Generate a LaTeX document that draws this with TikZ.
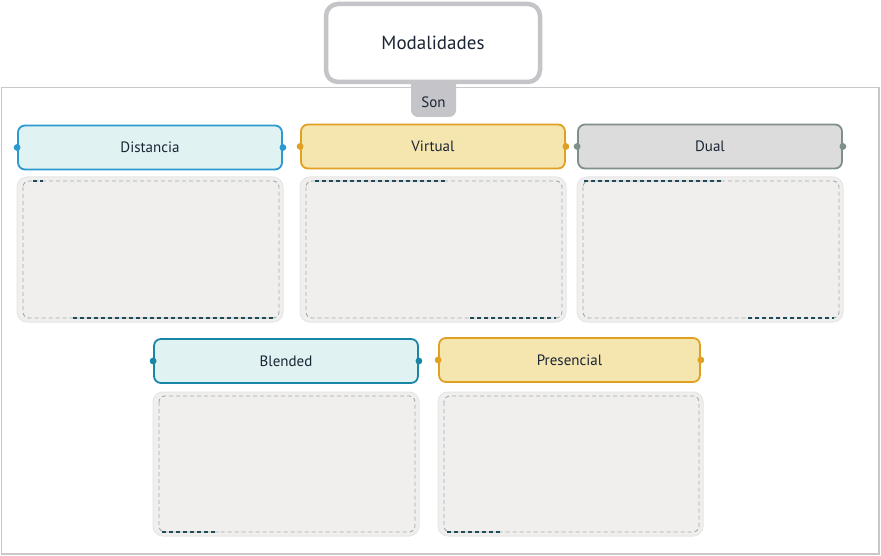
\documentclass[tikz,border=0pt]{standalone}
\usepackage{fontspec}
\setmainfont{PT Sans}
\definecolor{frame}{HTML}{C8C8CB}
\definecolor{topb}{HTML}{C4C4C9}
\definecolor{tealL}{HTML}{E0F2F2}
\definecolor{blueB}{HTML}{2A9AD0}
\definecolor{tealB}{HTML}{1A86A6}
\definecolor{yelL}{HTML}{F5E6B0}
\definecolor{yelB}{HTML}{E0A021}
\definecolor{grayL}{HTML}{DCDCDC}
\definecolor{grayB}{HTML}{7F8F8A}
\definecolor{cont}{HTML}{F0EFED}
\definecolor{contB}{HTML}{E6E6E6}
\definecolor{dashG}{HTML}{A2ACAC}
\definecolor{dashD}{HTML}{1E4A5A}
\definecolor{txt}{HTML}{1B2433}
\tikzset{
  hdr/.style={draw, line width=1.8pt, rounded corners=7pt, minimum width=264pt, minimum height=44pt, inner sep=0pt, font=\fontsize{15}{17}\selectfont, text=txt},
  contbox/.style={fill=cont, draw=contB, line width=1pt, rounded corners=10pt},
  dsh/.style={draw=dashG, dash pattern=on 4pt off 3pt, line width=0.9pt, rounded corners=6pt},
  dkd/.style={draw=dashD, dash pattern=on 4pt off 3pt, line width=1.1pt},
}
\newcommand{\contentbox}[4]{% x1 y1 x2 y2
  \draw[contbox] (#1,#2) rectangle (#3,#4);
  \draw[dsh] (#1+6,#2+4) rectangle (#3-4,#4-4);
}
\begin{document}
\begin{tikzpicture}[x=1pt,y=-1pt]
\useasboundingbox (0,0) rectangle (881,556);
\fill[white] (0,0) rectangle (881,556);
% outer frame
\draw[frame, line width=1.8pt] (1.5,87.5) rectangle (879,554);
% Son tab
\fill[topb, rounded corners=7pt] (411,70) rectangle (456,117);
\node[font=\fontsize{15}{17}\selectfont, text=txt] (son) at (433.5,102) {Son};
% top box
\node[draw=topb, fill=white, line width=4.5pt, rounded corners=12pt, minimum width=214pt, minimum height=78pt, font=\fontsize{19}{21}\selectfont, text=txt] (mod) at (433,43) {Modalidades};

% headers
\node[hdr, fill=tealL, draw=blueB] (dist) at (150,147.5) {Distancia};
\node[hdr, fill=yelL, draw=yelB] (virt) at (433,146.5) {Virtual};
\node[hdr, fill=grayL, draw=grayB] (dual) at (710,146.5) {Dual};
\node[hdr, fill=tealL, draw=tealB] (blend) at (286,361) {Blended};
\node[hdr, fill=yelL, draw=yelB, minimum width=261pt] (pres) at (569.5,360) {Presencial};
% dots
\foreach \n/\c in {dist/blueB, virt/yelB, dual/grayB, blend/tealB, pres/yelB}{
  \fill[\c] (\n.west) circle (3.4pt);
  \fill[\c] (\n.east) circle (3.4pt);
}

% content boxes
\contentbox{17}{177}{283}{322}
\contentbox{300}{177}{566}{322}
\contentbox{577}{177}{843}{322}
\contentbox{153}{392}{419}{536}
\contentbox{438}{392}{703}{536}
% dark dash segments
\draw[dkd] (33,181) -- (43,181);
\draw[dkd] (73,318) -- (275,318);
\draw[dkd] (315,181) -- (445,181);
\draw[dkd] (470,318) -- (556,318);
\draw[dkd] (584,181) -- (722,181);
\draw[dkd] (748,318) -- (834,318);
\draw[dkd] (162,532) -- (218,532);
\draw[dkd] (447,532) -- (500,532);
\end{tikzpicture}
\end{document}
